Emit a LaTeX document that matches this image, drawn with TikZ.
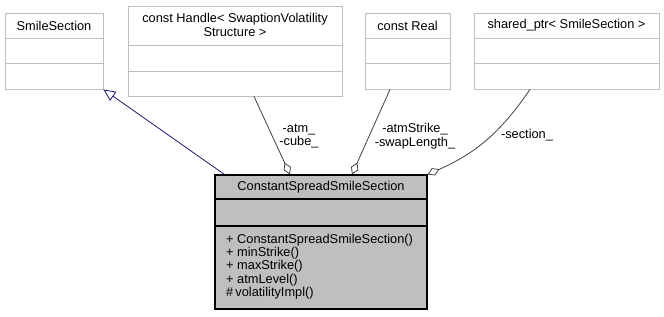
\documentclass[tikz,border=0pt]{standalone}
\usepackage{fontspec}
\setmainfont{Liberation Sans}
\usetikzlibrary{arrows.meta}
\definecolor{boxline}{HTML}{BFBFBF}
\definecolor{mainfill}{HTML}{BFBFBF}
\definecolor{inheritcolor}{HTML}{191970}
\definecolor{assoccolor}{HTML}{404040}
\newcommand{\umlfont}{\fontsize{12.8}{13.6}\selectfont}
\newcommand{\rowsep}{13.4}

\begin{document}
\begin{tikzpicture}[x=1pt,y=-1pt,every node/.style={font=\umlfont,inner sep=0pt},
  classbox/.style={draw=boxline,line width=.9pt,fill=white},
  mainbox/.style={draw=black,line width=1.1pt,fill=mainfill},
  inherit/.style={draw=inheritcolor,line width=.8pt,-{Triangle[length=12pt,width=11pt,fill=white]}},
  assoc/.style={draw=assoccolor,line width=.8pt,-{Diamond[length=13pt,width=8pt,fill=white]}}]

\useasboundingbox (0,0) rectangle (664,316);

% base class
\node[classbox,minimum width=98,minimum height=76] (smile) at (54,51) {};
\draw[boxline,line width=.9pt] (5,38) -- (103,38);
\draw[boxline,line width=.9pt] (5,63) -- (103,63);
\node (smiletitle) at (54,25.5) {SmileSection};

% member types
\node[classbox,minimum width=214,minimum height=90] (handle) at (235,51) {};
\draw[boxline,line width=.9pt] (128,45) -- (342,45);
\draw[boxline,line width=.9pt] (128,71) -- (342,71);
\node[align=center] (handletitle) at (235,25) {const Handle< SwaptionVolatility\\Structure >};

\node[classbox,minimum width=85,minimum height=76] (real) at (407.5,51) {};
\draw[boxline,line width=.9pt] (365,38) -- (450,38);
\draw[boxline,line width=.9pt] (365,63) -- (450,63);
\node (realtitle) at (407.5,25.5) {const Real};

\node[classbox,minimum width=185,minimum height=76] (shptr) at (566.5,51) {};
\draw[boxline,line width=.9pt] (474,38) -- (659,38);
\draw[boxline,line width=.9pt] (474,63) -- (659,63);
\node (shptrtitle) at (566.5,25.5) {shared\_ptr< SmileSection >};

% derived class
\node[mainbox,minimum width=212,minimum height=134] (main) at (321,242) {};
\draw[black,line width=1.1pt] (215,199) -- (427,199);
\draw[black,line width=1.1pt] (215,226) -- (427,226);
\node (maintitle) at (321,187) {ConstantSpreadSmileSection};

\foreach \txt [count=\i from 0] in {+ ConstantSpreadSmileSection(),+ minStrike(),+ maxStrike(),+ atmLevel(),\#\,volatilityImpl()}
  \node[anchor=base west] (m\i) at (226,243+\i*\rowsep) {\txt};

% relations
\draw[inherit] ([xshift=10pt]main.north west) -- (smile.south east);
\draw[assoc] ([xshift=19pt]handle.south) -- ([xshift=-31pt]main.north);
\draw[assoc] ([xshift=-17.5pt]real.south) -- ([xshift=31pt]main.north);
\draw[assoc] ([xshift=-36.5pt]shptr.south) to[bend left=16] (main.north east);

\node[align=center] (atmlbl) at (299,136) {-atm\_\\-cube\_};
\node[align=center] (strikelbl) at (415,136) {-atmStrike\_\\-swapLength\_};
\node (sectionlbl) at (527,135) {-section\_};

\end{tikzpicture}
\end{document}
